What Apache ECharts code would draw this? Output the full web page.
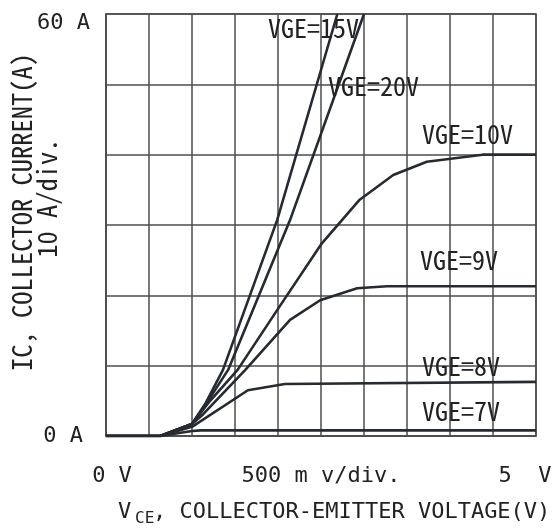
<!DOCTYPE html>
<html>
<head>
<meta charset="utf-8">
<script src="https://cdn.jsdelivr.net/npm/echarts@6/dist/echarts.min.js"></script>
<style>
  html, body { margin: 0; padding: 0; background: #ffffff; }
  #chart { width: 556px; height: 529px; }
</style>
</head>
<body>
<div id="chart"></div>
<script>
// IGBT output characteristics: collector current (A) vs collector-emitter voltage (V)

const curveLabels = ['VGE=15V', 'VGE=20V', 'VGE=10V', 'VGE=9V', 'VGE=8V', 'VGE=7V'];

// VGE = 15 V
const vce15 = [0, 0.63, 1.00, 1.16, 1.36, 1.99, 2.69];
const ic15  = [0, 0,    1.7,  4.7,  9.4,  30.7, 60];
// VGE = 20 V
const vce20 = [0, 0.63, 1.00, 1.17, 1.42, 2.14, 3.00];
const ic20  = [0, 0,    1.7,  4.7,  9.4,  30.7, 60];
// VGE = 10 V
const vce10 = [0, 0.63, 1.00, 1.19, 1.53, 1.99, 2.51, 2.95, 3.34, 3.73, 4.38, 5.00];
const ic10  = [0, 0,    1.7,  4.7,  9.4,  17.9, 27.4, 33.6, 37.1, 39.0, 40.0, 40.0];
// VGE = 9 V
const vce9 = [0, 0.63, 1.00, 1.13, 1.62, 2.14, 2.49, 2.92, 3.27, 5.00];
const ic9  = [0, 0,    1.7,  3.1,  9.4,  16.5, 19.3, 21.0, 21.3, 21.3];
// VGE = 8 V
const vce8 = [0, 0.63, 1.00, 1.65, 2.08, 5.00];
const ic8  = [0, 0,    1.3,  6.5,  7.4,  7.7];
// VGE = 7 V
const vce7 = [0, 0.63, 1.00, 1.10, 5.00];
const ic7  = [0, 0,    0.7,  0.8,  0.8];

// Axis tick labels that are shown
const xTickValues = [0, 2.5, 5];
const xTickTexts  = ['0 V', '500 m v/div.', '5  V'];
const yTickValues = [0, 60];
const yTickTexts  = ['0 A', '60 A'];

const curves = [
  [vce15, ic15], [vce20, ic20], [vce10, ic10], [vce9, ic9], [vce8, ic8], [vce7, ic7]
];

const MONO = "'DejaVu Sans Mono', monospace";
const NARROW = "'Noto Sans Mono CJK SC', 'Noto Sans CJK SC', 'DejaVu Sans Mono', sans-serif";
const INK = '#222222';
const GRID = '#4d4d4d';

function zip(xs, ys) { return xs.map((x, i) => [x, ys[i]]); }
function lookup(values, texts, v) {
  for (let i = 0; i < values.length; i++) if (Math.abs(values[i] - v) < 1e-6) return texts[i];
  return null;
}

const chart = echarts.init(document.getElementById('chart'), null, { renderer: 'canvas' });

const option = {
  animation: false,
  backgroundColor: '#ffffff',
  grid: {
    left: 106, right: 20, top: 14, bottom: 93,
    show: true, borderColor: GRID, borderWidth: 1.5, backgroundColor: 'transparent'
  },
  xAxis: {
    type: 'value', min: 0, max: 5, interval: 0.5,
    axisLine: { show: true, lineStyle: { color: GRID, width: 1.5 } },
    axisTick: { show: false },
    splitLine: { show: true, lineStyle: { color: GRID, width: 1.5 } },
    axisLabel: {
      margin: 29, showMinLabel: true, showMaxLabel: true, hideOverlap: false,
      color: INK, fontFamily: MONO, fontSize: 22,
      formatter: function (v) {
        const t = lookup(xTickValues, xTickTexts, v);
        if (t === null) return '';
        if (v === 0) return '{l|' + t + '}';
        if (v === 5) return '{r|' + t + '}';
        return '{m|' + t + '}';
      },
      rich: {
        l: { fontFamily: MONO, fontSize: 22, color: INK, padding: [0, 0, 0, 12] },
        r: { fontFamily: MONO, fontSize: 22, color: INK, padding: [0, 22, 0, 0] },
        m: { fontFamily: MONO, fontSize: 22, color: INK }
      }
    }
  },
  yAxis: {
    type: 'value', min: 0, max: 60, interval: 10,
    axisLine: { show: true, lineStyle: { color: GRID, width: 1.5 } },
    axisTick: { show: false },
    splitLine: { show: true, lineStyle: { color: GRID, width: 1.5 } },
    axisLabel: {
      margin: 16, showMinLabel: true, showMaxLabel: true, hideOverlap: false,
      color: INK, fontFamily: MONO, fontSize: 22,
      formatter: function (v) {
        const t = lookup(yTickValues, yTickTexts, v);
        if (t === null) return '';
        if (v === 60) return '{t|' + t + '}';
        return '{b|' + t + '}';
      },
      rich: {
        t: { fontFamily: MONO, fontSize: 22, color: INK, padding: [18, 0, 0, 0] },
        b: { fontFamily: MONO, fontSize: 22, color: INK, padding: [0, 7, 0, 0] }
      }
    }
  },
  series: curves.map((c, i) => ({
    name: curveLabels[i],
    type: 'line',
    data: zip(c[0], c[1]),
    showSymbol: false,
    smooth: false,
    clip: true,
    z: 5,
    lineStyle: { color: '#262b31', width: 2.6 }
  })),
  graphic: [
    // curve annotations
    { type: 'text', x: 268, y: 28, z: 10, style: { text: curveLabels[0], font: '26px ' + NARROW, fill: INK, verticalAlign: 'middle' } },
    { type: 'text', x: 328, y: 86, z: 10, style: { text: curveLabels[1], font: '26px ' + NARROW, fill: INK, verticalAlign: 'middle' } },
    { type: 'text', x: 422, y: 134, z: 10, style: { text: curveLabels[2], font: '26px ' + NARROW, fill: INK, verticalAlign: 'middle' } },
    { type: 'text', x: 420, y: 260, z: 10, style: { text: curveLabels[3], font: '26px ' + NARROW, fill: INK, verticalAlign: 'middle' } },
    { type: 'text', x: 422, y: 366, z: 10, style: { text: curveLabels[4], font: '26px ' + NARROW, fill: INK, verticalAlign: 'middle' } },
    { type: 'text', x: 422, y: 411, z: 10, style: { text: curveLabels[5], font: '26px ' + NARROW, fill: INK, verticalAlign: 'middle' } },
    // y-axis titles
    { type: 'text', x: 22, y: 212, rotation: Math.PI / 2, style: { text: 'IC, COLLECTOR CURRENT(A)', font: '26.5px ' + NARROW, fill: INK, align: 'center', verticalAlign: 'middle' } },
    { type: 'text', x: 47, y: 198, rotation: Math.PI / 2, style: { text: '10 A/div.', font: '26.5px ' + NARROW, fill: INK, align: 'center', verticalAlign: 'middle' } },
    // x-axis title with subscript
    { type: 'text', x: 118, y: 512, style: { text: 'V', font: '22px ' + MONO, fill: INK, verticalAlign: 'middle' } },
    { type: 'text', x: 135, y: 519, style: { text: 'CE', font: '16px ' + MONO, fill: INK, verticalAlign: 'middle' } },
    { type: 'text', x: 153, y: 512, style: { text: ', COLLECTOR-EMITTER VOLTAGE(V)', font: '22px ' + MONO, fill: INK, verticalAlign: 'middle' } }
  ]
};

chart.setOption(option);
</script>
</body>
</html>
